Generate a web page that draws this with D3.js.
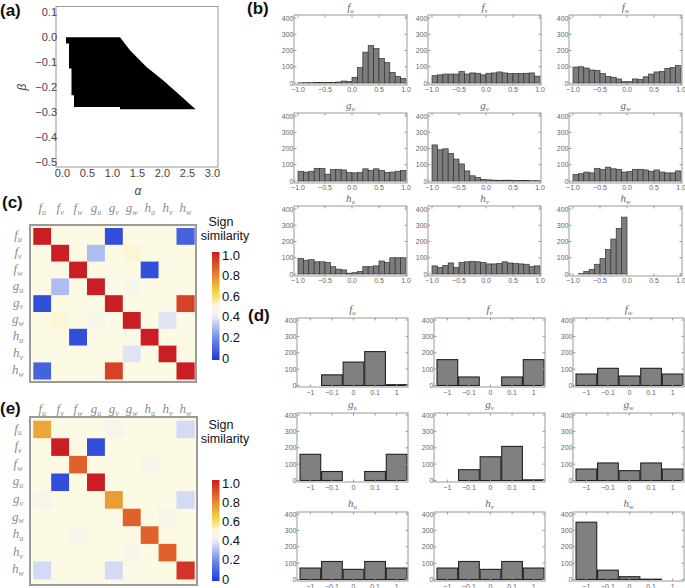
<!DOCTYPE html>
<html><head><meta charset="utf-8">
<script src="https://cdn.jsdelivr.net/npm/d3@7"></script>
<style>body{margin:0;background:#fff}svg{display:block}</style>
</head><body>
<svg id="chart" width="685" height="588"></svg>
<script>
// ---------------- DATA ----------------
// (a) feasible region boundary (alpha, beta)
const regionAlpha = [0.07, 1.15, 1.35, 1.68, 2.01, 2.35, 2.66, 1.15, 1.15, 0.23, 0.23, 0.18, 0.18, 0.13, 0.13, 0.07];
const regionBeta  = [0.0, 0.0, -0.052, -0.119, -0.172, -0.232, -0.288, -0.288, -0.279, -0.279, -0.232, -0.232, -0.125, -0.125, -0.025, -0.025];
const aXTicks = [0, 0.5, 1, 1.5, 2, 2.5, 3];
const aYTicks = [0.1, 0, -0.1, -0.2, -0.3, -0.4, -0.5];

// (b) histograms, 20 bins on [-1,1]
const binLefts = [-1.0,-0.9,-0.8,-0.7,-0.6,-0.5,-0.4,-0.3,-0.2,-0.1,0.0,0.1,0.2,0.3,0.4,0.5,0.6,0.7,0.8,0.9];
const bTicks = [-1, -0.5, 0, 0.5, 1];
const bTickLabels = ["\u22121.0", "\u22120.5", "0.0", "0.5", "1.0"];
const countTicks = [0, 100, 200, 300, 400];
const hist_fu = [1,2,2,3,3,4,4,6,12,10,35,95,190,230,212,150,125,65,40,28];
const hist_fv = [45,50,55,55,55,70,55,62,60,50,60,62,68,62,58,58,58,60,62,42];
const hist_fw = [98,100,92,80,78,58,40,35,25,8,8,25,22,38,55,68,70,90,95,108];
const hist_gu = [60,55,60,78,78,42,70,72,68,52,50,52,75,65,75,65,52,55,60,65];
const hist_gv = [222,192,198,170,135,105,62,32,22,10,7,5,3,5,5,4,3,3,2,2];
const hist_gw = [40,45,55,50,78,70,85,75,72,55,58,72,72,68,60,68,55,50,50,62];
const hist_hu = [95,85,88,75,75,70,45,30,25,5,8,15,45,45,50,80,70,100,100,100];
const hist_hv = [50,40,52,68,40,72,75,78,75,70,62,62,65,75,68,65,62,60,45,50];
const hist_hw = [0,2,15,28,60,95,150,215,280,350,0,0,0,0,0,0,0,0,0,0];

// (d) sign categories
const dCats = ["\u22121", "\u22120.1", "0", "0.1", "1"];
const sign_fu = [0, 65, 143, 207, 5];
const sign_fv = [158, 52, 0, 52, 158];
const sign_fw = [70, 105, 58, 105, 70];
const sign_gu = [160, 55, 0, 55, 160];
const sign_gv = [0, 66, 145, 208, 4];
const sign_gw = [70, 107, 60, 107, 70];
const sign_hu = [70, 110, 62, 110, 70];
const sign_hv = [70, 110, 62, 110, 70];
const sign_hw = [350, 57, 17, 2, 0];

// function names
const fnLetters = ["f","f","f","g","g","g","h","h","h"];
const fnSubs    = ["u","v","w","u","v","w","u","v","w"];

// (c) sign similarity, full sample
const simC = [
  [1.00,0.50,0.50,0.50,0.05,0.50,0.50,0.50,0.10],
  [0.50,1.00,0.50,0.30,0.50,0.51,0.50,0.50,0.50],
  [0.50,0.50,1.00,0.50,0.50,0.50,0.05,0.50,0.50],
  [0.50,0.30,0.50,1.00,0.50,0.47,0.50,0.50,0.50],
  [0.05,0.50,0.50,0.50,1.00,0.50,0.50,0.50,0.92],
  [0.50,0.51,0.50,0.47,0.50,1.00,0.50,0.38,0.50],
  [0.50,0.50,0.05,0.50,0.50,0.50,1.00,0.50,0.50],
  [0.50,0.50,0.50,0.50,0.50,0.38,0.50,1.00,0.50],
  [0.10,0.50,0.50,0.50,0.92,0.50,0.50,0.50,1.00]
];
// (e) sign similarity, discretised
const simE = [
  [0.72,0.50,0.50,0.50,0.46,0.50,0.50,0.50,0.36],
  [0.50,1.00,0.50,0.05,0.50,0.50,0.50,0.50,0.50],
  [0.50,0.50,0.85,0.50,0.50,0.50,0.47,0.50,0.50],
  [0.50,0.05,0.50,1.00,0.50,0.50,0.50,0.50,0.50],
  [0.46,0.50,0.50,0.50,0.74,0.50,0.50,0.50,0.36],
  [0.50,0.50,0.50,0.50,0.50,0.85,0.50,0.47,0.50],
  [0.50,0.50,0.47,0.50,0.50,0.50,0.85,0.50,0.50],
  [0.50,0.50,0.50,0.50,0.50,0.47,0.50,0.85,0.50],
  [0.36,0.50,0.50,0.50,0.36,0.50,0.50,0.50,0.95]
];
const cbTicks = [0, 0.2, 0.4, 0.6, 0.8, 1.0];
const cbTickLabels = ["0", "0.2", "0.4", "0.6", "0.8", "1.0"];

// ---------------- DRAW ----------------
const svg = d3.select("#chart");
const SANS = "Arial, 'Liberation Sans', sans-serif";
const SERIF = "'Liberation Serif', 'DejaVu Serif', serif";

function panelLabel(txt, x, y) {
  svg.append("text").attr("x", x).attr("y", y).text(txt)
    .attr("font-family", SANS).attr("font-weight", "bold").attr("font-size", 17).attr("fill", "#111");
}

function fnLabel(g, x, y, i, size, color, anchor) {
  const t = g.append("text").attr("x", x).attr("y", y)
    .attr("font-family", SERIF).attr("font-style", "italic")
    .attr("fill", color).attr("text-anchor", anchor || "middle").attr("font-size", size);
  t.append("tspan").text(fnLetters[i]);
  t.append("tspan").text(fnSubs[i]).attr("font-size", size * 0.62).attr("dy", size * 0.22);
  return t;
}

// ---- (a)
(function () {
  const L = 56, R = 218, T = 6.5, B = 167;
  const x = d3.scaleLinear().domain([-0.13, 3.11]).range([L, R]);
  const y = d3.scaleLinear().domain([-0.519, 0.123]).range([B, T]);
  const g = svg.append("g");
  const pts = regionAlpha.map((a, i) => [x(a), y(regionBeta[i])]);
  g.append("path").attr("d", d3.line()(pts) + "Z").attr("fill", "#000");
  g.append("rect").attr("x", L).attr("y", T).attr("width", R - L).attr("height", B - T)
    .attr("fill", "none").attr("stroke", "#999").attr("stroke-width", 1);
  aXTicks.forEach(v => {
    g.append("text").attr("x", x(v)).attr("y", B + 10).text(d3.format(".1f")(v))
      .attr("text-anchor", "middle").attr("font-family", SANS).attr("font-size", 11).attr("fill", "#444");
  });
  aYTicks.forEach(v => {
    g.append("text").attr("x", L + 1).attr("y", y(v) + 4).text(d3.format(".1f")(v).replace("-", "\u2212"))
      .attr("text-anchor", "end").attr("font-family", SANS).attr("font-size", 11).attr("fill", "#444");
  });
  g.append("text").attr("x", 138).attr("y", 195).text("\u03b1").attr("text-anchor", "middle")
    .attr("font-family", SANS).attr("font-style", "italic").attr("font-size", 12).attr("fill", "#444");
  g.append("text").attr("transform", "translate(26,87) rotate(-90)").text("\u03b2").attr("text-anchor", "middle")
    .attr("font-family", SANS).attr("font-style", "italic").attr("font-size", 12).attr("fill", "#444");
})();
panelLabel("(a)", 0, 16);

// ---- generic frame
function frame(g, L, T, w, h) {
  g.append("rect").attr("x", L).attr("y", T).attr("width", w).attr("height", h)
    .attr("fill", "none").attr("stroke", "#9a9a9a").attr("stroke-width", 1);
}

// ---- (b)
const histSets = [hist_fu, hist_fv, hist_fw, hist_gu, hist_gv, hist_gw, hist_hu, hist_hv, hist_hw];
const bCols = [294, 428, 569], bRows = [15, 113, 206], bW = 113, bH = 70;
histSets.forEach((data, i) => {
  const L = bCols[i % 3], T = bRows[Math.floor(i / 3)];
  const g = svg.append("g");
  const x = d3.scaleLinear().domain([-1, 1]).range([L + 4, L + bW - 1]);
  const y = d3.scaleLinear().domain([0, 400]).range([T + bH - 2, T + 3]);
  g.selectAll("rect.bar").data(data).join("rect").attr("class", "bar")
    .attr("x", (d, j) => x(binLefts[j]))
    .attr("width", (d, j) => x(binLefts[j] + 0.1) - x(binLefts[j]))
    .attr("y", d => y(d)).attr("height", d => y(0) - y(d))
    .attr("fill", "#7d7d7d").attr("stroke", "#333").attr("stroke-width", 0.7);
  frame(g, L, T, bW, bH);
  bTicks.forEach((v, k) => {
    g.append("line").attr("x1", x(v)).attr("x2", x(v)).attr("y1", T + bH).attr("y2", T + bH - 2.5).attr("stroke", "#999");
    g.append("line").attr("x1", x(v)).attr("x2", x(v)).attr("y1", T).attr("y2", T + 2.5).attr("stroke", "#999");
    g.append("text").attr("x", x(v)).attr("y", T + bH + 7).text(bTickLabels[k])
      .attr("text-anchor", "middle").attr("font-family", SANS).attr("font-size", 7).attr("fill", "#666");
  });
  countTicks.forEach(v => {
    g.append("line").attr("x1", L).attr("x2", L + 2.5).attr("y1", y(v)).attr("y2", y(v)).attr("stroke", "#999");
    g.append("line").attr("x1", L + bW).attr("x2", L + bW - 2.5).attr("y1", y(v)).attr("y2", y(v)).attr("stroke", "#999");
    g.append("text").attr("x", L - 0.5).attr("y", y(v) + 2.5).text(v)
      .attr("text-anchor", "end").attr("font-family", SANS).attr("font-size", 7).attr("fill", "#666");
  });
  fnLabel(g, L + bW / 2, T - 4, i, 11, "#666");
});
panelLabel("(b)", 247, 14);

// ---- (d)
const signSets = [sign_fu, sign_fv, sign_fw, sign_gu, sign_gv, sign_gw, sign_hu, sign_hv, sign_hw];
const dCols = [297, 434, 573], dRows = [318, 413, 512], dW = 111, dH = 69;
signSets.forEach((data, i) => {
  const L = dCols[i % 3], T = dRows[Math.floor(i / 3)];
  const g = svg.append("g");
  const x = d3.scaleBand().domain(dCats).range([L + 3, L + dW - 1]).paddingInner(0.04);
  const y = d3.scaleLinear().domain([0, 400]).range([T + dH - 1.5, T + 2]);
  g.selectAll("rect.bar").data(data).join("rect").attr("class", "bar")
    .attr("x", (d, j) => x(dCats[j])).attr("width", x.bandwidth())
    .attr("y", d => y(d)).attr("height", d => y(0) - y(d))
    .attr("fill", "#808080").attr("stroke", "#222").attr("stroke-width", 1.1);
  frame(g, L, T, dW, dH);
  dCats.forEach(c => {
    const cx = x(c) + x.bandwidth() / 2;
    g.append("line").attr("x1", cx).attr("x2", cx).attr("y1", T + dH).attr("y2", T + dH - 2.5).attr("stroke", "#999");
    g.append("line").attr("x1", cx).attr("x2", cx).attr("y1", T).attr("y2", T + 2.5).attr("stroke", "#999");
    g.append("text").attr("x", cx).attr("y", T + dH + 7.5).text(c)
      .attr("text-anchor", "middle").attr("font-family", SANS).attr("font-size", 7).attr("fill", "#666");
  });
  countTicks.forEach(v => {
    g.append("line").attr("x1", L).attr("x2", L + 2.5).attr("y1", y(v)).attr("y2", y(v)).attr("stroke", "#999");
    g.append("line").attr("x1", L + dW).attr("x2", L + dW - 2.5).attr("y1", y(v)).attr("y2", y(v)).attr("stroke", "#999");
    g.append("text").attr("x", L - 0.5).attr("y", y(v) + 2.5).text(v)
      .attr("text-anchor", "end").attr("font-family", SANS).attr("font-size", 7).attr("fill", "#666");
  });
  fnLabel(g, L + dW / 2, T - 5, i, 11, "#666");
});
panelLabel("(d)", 248, 321);

// ---- colour scale
const colorStops = [
  [0.00, "#1d3bd6"], [0.20, "#6e8be6"], [0.40, "#eceef7"], [0.50, "#fcf9e4"],
  [0.62, "#f3d640"], [0.72, "#e9a838"], [0.85, "#e0622a"], [1.00, "#c81e24"]
];
const color = d3.scaleLinear().domain(colorStops.map(s => s[0])).range(colorStops.map(s => s[1]));
const defs = svg.append("defs");
const grad = defs.append("linearGradient").attr("id", "cbgrad").attr("x1", 0).attr("y1", 1).attr("x2", 0).attr("y2", 0);
d3.range(0, 1.0001, 0.05).forEach(v => grad.append("stop").attr("offset", v).attr("stop-color", color(v)));

function heatmap(mat, L, T, cw, ch, boxL, boxT, boxR, boxB, labY) {
  const g = svg.append("g");
  const ids = d3.range(9);
  const x = d3.scaleBand().domain(ids).range([L, L + 9 * cw]);
  const y = d3.scaleBand().domain(ids).range([T, T + 9 * ch]);
  g.append("rect").attr("x", boxL).attr("y", boxT).attr("width", boxR - boxL).attr("height", boxB - boxT)
    .attr("fill", color(0.5)).attr("stroke", "#9a9a9a").attr("stroke-width", 2);
  mat.forEach((row, r) => row.forEach((v, c) => {
    g.append("rect").attr("x", x(c)).attr("y", y(r)).attr("width", x.bandwidth() + 0.3).attr("height", y.bandwidth() + 0.3)
      .attr("fill", color(v));
  }));
  ids.forEach(i => {
    fnLabel(g, x(i) + x.bandwidth() / 2, labY, i, 13, "#8c8c8c");
    fnLabel(g, 18, y(i) + y.bandwidth() / 2 + 3, i, 13, "#8c8c8c");
  });
}
function colorbar(T, B, signY) {
  const g = svg.append("g");
  const y = d3.scaleLinear().domain([0, 1]).range([B - 2, T + 3]);
  g.append("rect").attr("x", 212).attr("y", T).attr("width", 7.5).attr("height", B - T).attr("fill", "url(#cbgrad)");
  cbTicks.forEach((v, k) => {
    g.append("text").attr("x", 222).attr("y", y(v) + 4.5).text(cbTickLabels[k])
      .attr("font-family", SANS).attr("font-size", 13).attr("fill", "#111");
  });
  g.append("text").attr("x", 221).attr("y", signY).text("Sign").attr("text-anchor", "middle")
    .attr("font-family", SANS).attr("font-size", 12.5).attr("fill", "#111");
  g.append("text").attr("x", 225).attr("y", signY + 13.5).text("similarity").attr("text-anchor", "middle")
    .attr("font-family", SANS).attr("font-size", 12.5).attr("fill", "#111");
}

heatmap(simC, 33.3, 228, 17.9, 16.8, 30, 225, 196, 382, 212);
colorbar(252, 360, 226);
panelLabel("(c)", 2, 208);

heatmap(simE, 33.3, 420.7, 17.9, 17.6, 30, 417, 197, 585, 413);
colorbar(480, 581, 429);
panelLabel("(e)", 0, 414);
</script>
</body></html>
